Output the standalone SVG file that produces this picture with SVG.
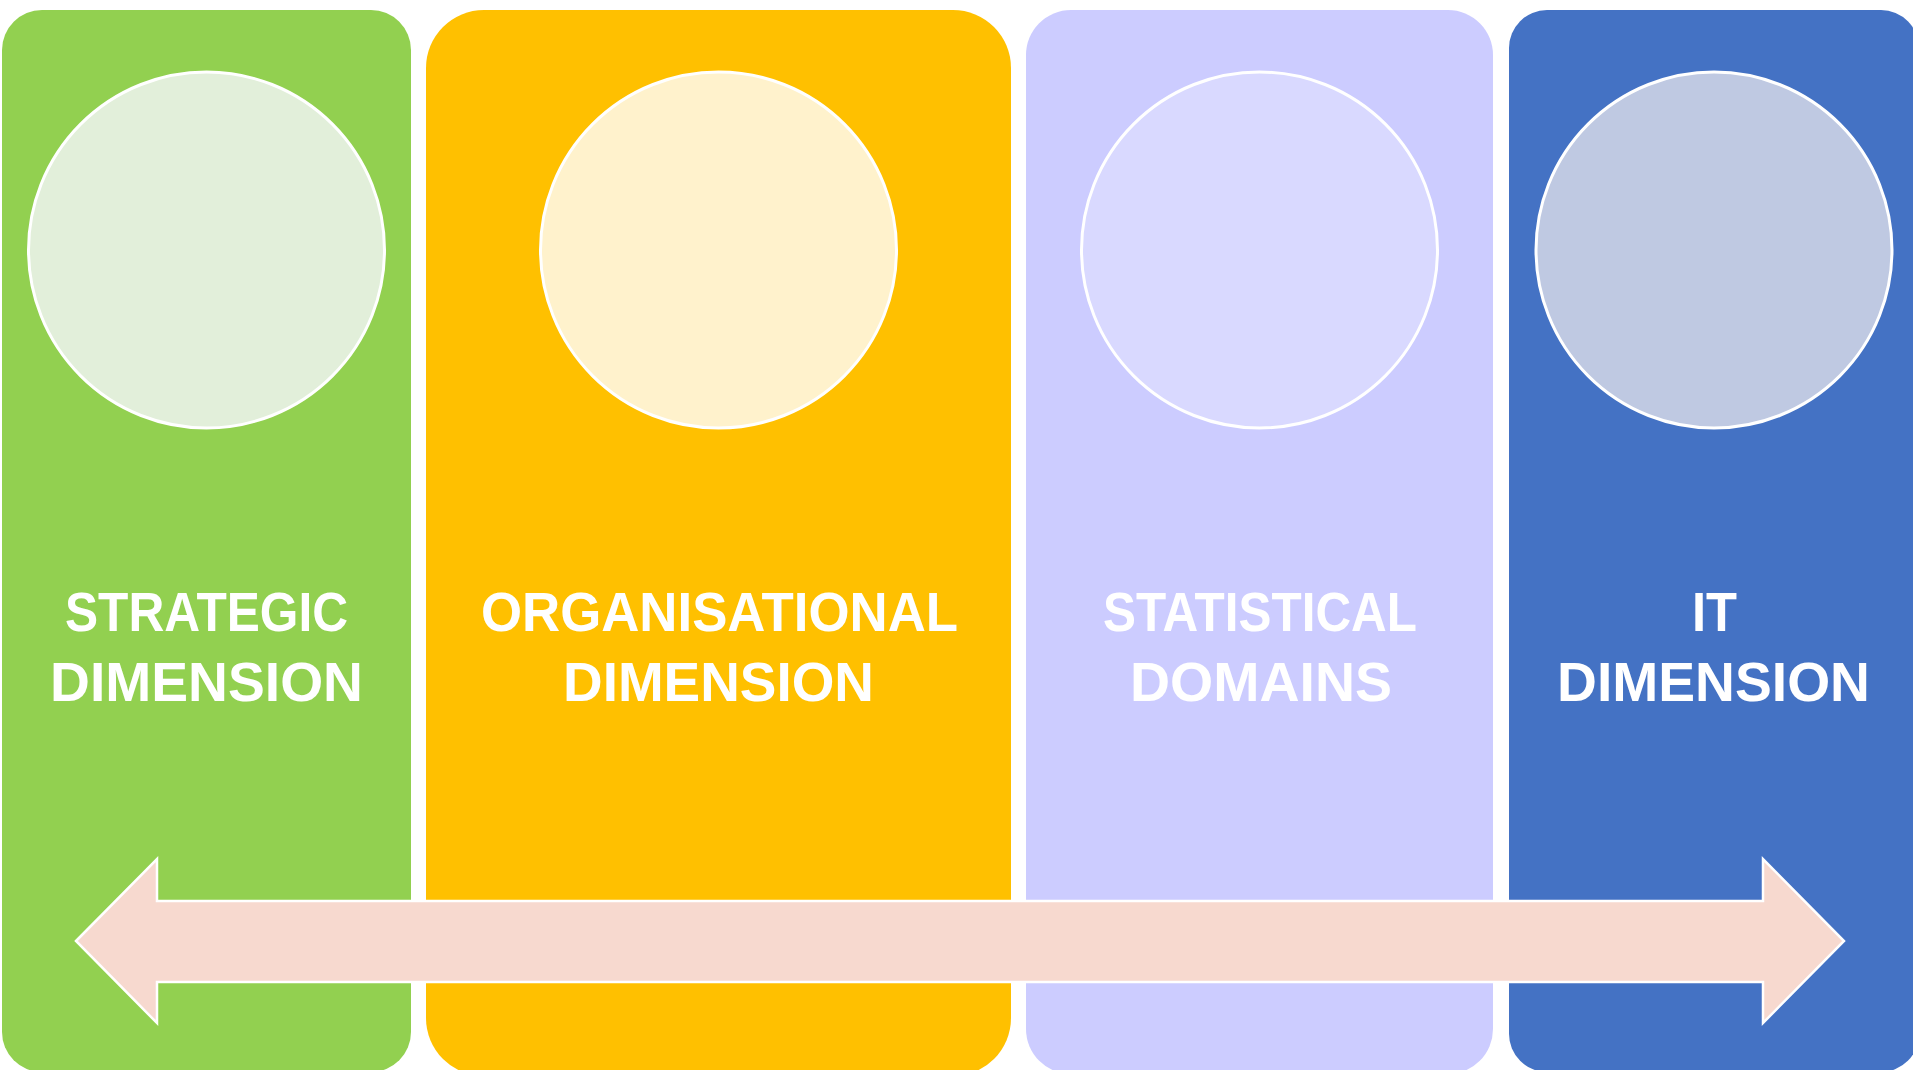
<svg xmlns="http://www.w3.org/2000/svg" width="1913" height="1070" viewBox="0 0 1913 1070">
<style>
.lbl{font-family:"Liberation Sans",Arial,sans-serif;font-weight:bold;font-size:55px;fill:#FFFFFF;text-anchor:middle}
.disc{stroke:#FFFFFF;stroke-width:3}
</style>
<rect x="0" y="0" width="1913" height="1070" fill="#FFFFFF"/>
<g id="strategic">
<rect x="2" y="10" width="409" height="1062" rx="40" ry="40" fill="#92D050"/>
<circle class="disc" cx="206.5" cy="250" r="178" fill="#E2EFDA"/>
<text class="lbl" x="206.5" y="631" textLength="283" lengthAdjust="spacingAndGlyphs">STRATEGIC</text>
<text class="lbl" x="206.5" y="701" textLength="313" lengthAdjust="spacingAndGlyphs">DIMENSION</text>
</g>
<g id="organisational">
<rect x="426" y="10" width="585" height="1066" rx="58" ry="58" fill="#FFC000"/>
<circle class="disc" cx="718.5" cy="250" r="178" fill="#FFF2CC"/>
<text class="lbl" x="719.5" y="631" textLength="477" lengthAdjust="spacingAndGlyphs">ORGANISATIONAL</text>
<text class="lbl" x="718.5" y="701" textLength="311" lengthAdjust="spacingAndGlyphs">DIMENSION</text>
</g>
<g id="statistical">
<rect x="1026" y="10" width="467" height="1064" rx="45" ry="45" fill="#CCCCFF"/>
<circle class="disc" cx="1259.5" cy="250" r="178" fill="#D9D9FF"/>
<text class="lbl" x="1260" y="631" textLength="314" lengthAdjust="spacingAndGlyphs">STATISTICAL</text>
<text class="lbl" x="1261" y="701" textLength="262" lengthAdjust="spacingAndGlyphs">DOMAINS</text>
</g>
<g id="it">
<rect x="1509" y="10" width="410" height="1062" rx="38" ry="38" fill="#4472C4"/>
<circle class="disc" cx="1714" cy="250" r="178" fill="#BFC9E2"/>
<text class="lbl" x="1714.5" y="631" textLength="45" lengthAdjust="spacingAndGlyphs">IT</text>
<text class="lbl" x="1713.5" y="701" textLength="313" lengthAdjust="spacingAndGlyphs">DIMENSION</text>
</g>
<g id="connectors">
<polygon points="76,941 157,859 157,901 1763,901 1763,859 1844,941 1763,1023 1763,982 157,982 157,1023" fill="#F7D9CF" stroke="#FFFFFF" stroke-width="2.5" stroke-linejoin="miter"/>
</g>
</svg>
